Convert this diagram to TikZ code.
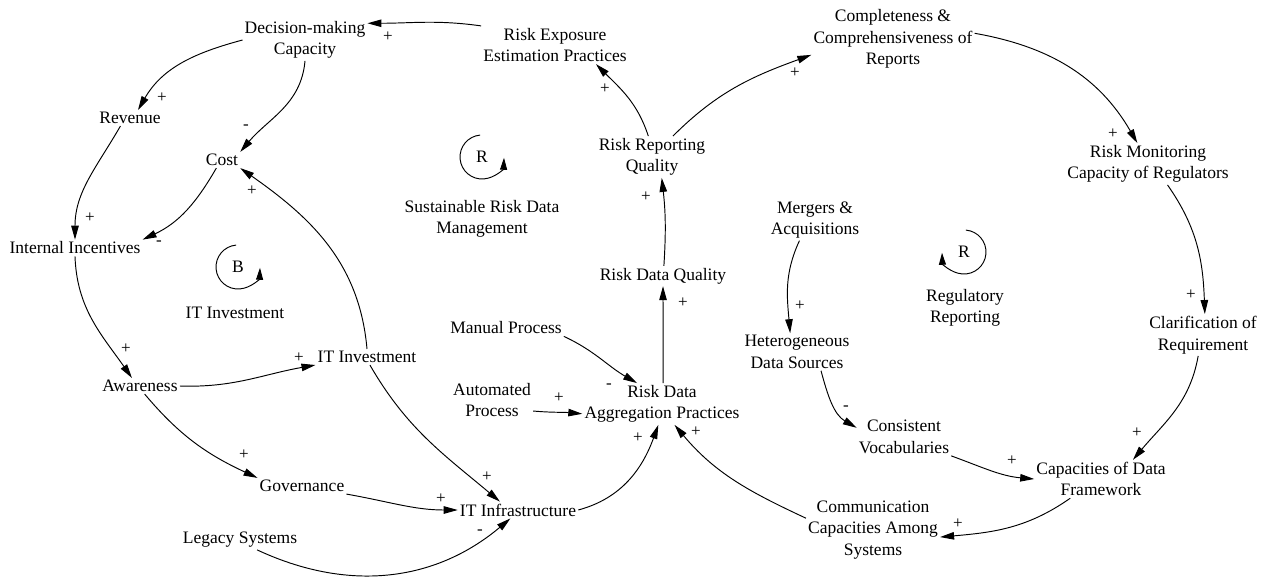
\documentclass[tikz,border=0pt]{standalone}
\usepackage{fontspec}
\setmainfont{Liberation Serif}
\usetikzlibrary{arrows.meta}

\tikzset{
  var/.style={align=center,inner sep=2pt,font=\fontsize{17.5}{21.5}\selectfont},
  link/.style={-{Triangle[length=14pt,width=7.5pt]},line width=0.95pt},
  pol/.style={inner sep=0pt,font=\fontsize{17}{20}\selectfont},
  loopsym/.style={-{Triangle[length=12pt,width=7pt]},line width=0.95pt},
}

\begin{document}
\begin{tikzpicture}[x=1pt,y=1pt]
\useasboundingbox (0,0) rectangle (1263,-584);
% variables
\node[var] (dmc) at (305,-40) {Decision-making\\Capacity};
\node[var] (rexp) at (555,-45) {Risk Exposure\\Estimation Practices};
\node[var] (compl) at (893,-39) {Completeness \&\\Comprehensiveness of\\Reports};
\node[var] (rev) at (130,-118) {Revenue};
\node[var] (cost) at (222,-160) {Cost};
\node[var] (rrq) at (652,-157) {Risk Reporting\\Quality};
\node[var] (rmon) at (1148,-164) {Risk Monitoring\\Capacity of Regulators};
\node[var] (inc) at (75,-248) {Internal Incentives};
\node[var] (ma) at (815,-220) {Mergers \&\\Acquisitions};
\node[var] (rdq) at (663,-276) {Risk Data Quality};
\node[var] (clar) at (1203,-335) {Clarification of\\Requirement};
\node[var] (manual) at (506,-328) {Manual Process};
\node[var] (het) at (797,-352) {Heterogeneous\\Data Sources};
\node[var] (aware) at (140,-386) {Awareness};
\node[var] (itinv) at (367,-357) {IT Investment};
\node[var] (auto) at (492,-400) {Automated\\Process};
\node[var] (rdap) at (662,-404) {Risk Data\\Aggregation Practices};
\node[var] (cv) at (904,-437) {Consistent\\Vocabularies};
\node[var] (cdf) at (1101,-479) {Capacities of Data\\Framework};
\node[var] (gov) at (302,-486) {Governance};
\node[var] (comm) at (873,-530) {Communication\\Capacities Among\\Systems};
\node[var] (itinf) at (518,-510) {IT Infrastructure};
\node[var] (legacy) at (240,-540) {Legacy Systems};

% loop names
\node[var] (sust) at (482,-219) {Sustainable Risk Data\\Management};
\node[var] (itloop) at (235,-313) {IT Investment};
\node[var] (regrep) at (965,-308) {Regulatory\\Reporting};

% loop symbols
\draw[loopsym] (238,-267) ++(95:22) arc (95:358:22);
\node[var] (bsym) at (238,-267) {B};
\draw[loopsym] (482,-157) ++(95:22) arc (95:358:22);
\node[var] (rsym1) at (482,-157) {R};
\draw[loopsym] (964,-252) ++(85:22) arc (85:-178:22);
\node[var] (rsym2) at (964,-252) {R};

% links
\draw[link] (rexp.north west) to[out=172,in=0] (dmc.15);
\draw[link] (dmc.west) to[out=195,in=60] (rev.45);
\draw[link] (dmc.south) to[out=-95,in=50] (cost.north east);
\draw[link] (rev.-140) to[out=-120,in=90] (inc.north);
\draw[link] (cost.-125) to[out=-120,in=25] (inc.north east);
\draw[link] (itinv.north) to[out=95,in=-35] (cost.south east);
\draw[link] (inc.south) to[out=-88,in=125] (aware.135);
\draw[link] (aware.east) to[out=-2,in=190] (itinv.south west);
\draw[link] (aware.-60) to[out=-50,in=155] (gov.north west);
\draw[link] (itinv.-70) to[out=-60,in=140] (itinf.155);
\draw[link] (gov.south east) to[out=-10,in=180] (itinf.west);
\draw[link] (legacy.-30) to[out=-25,in=-140] (itinf.-132);
\draw[link] (itinf.east) to[out=15,in=-110] (rdap.-100);
\draw[link] (manual.south east) to[out=-25,in=150] (rdap.140);
\draw[link] (auto.-15) to[out=-5,in=175] (rdap.187);
\draw[link] (comm.170) to[out=155,in=-50] (rdap.-59);
\draw[link] (rdap.87) -- (rdq.south);
\draw[link] (rdq.85) to[bend right=5] (rrq.-65);
\draw[link] (rrq.100) to[out=108,in=-45] (rexp.-25);
\draw[link] (rrq.45) to[out=45,in=200] (compl.191);
\draw[link] (compl.4) to[out=-10,in=120] (rmon.117);
\draw[link] (rmon.-47) to[out=-55,in=92] (clar.85);
\draw[link] (clar.-103) to[out=-100,in=50] (cdf.31);
\draw[link] (cv.south east) to[out=-20,in=175] (cdf.west);
\draw[link] (cdf.-148) to[out=-145,in=5] (comm.-6);
\draw[link] (ma.-127) to[out=-115,in=95] (het.110);
\draw[link] (het.-38) to[out=-75,in=150] (cv.169);

% polarities
\node[pol] at (388,-37) {+};
\node[pol] at (162,-98) {+};
\node[pol] at (246,-127) {-};
\node[pol] at (90,-218) {+};
\node[pol] at (159,-243) {-};
\node[pol] at (252,-191) {+};
\node[pol] at (126,-349) {+};
\node[pol] at (299,-358) {+};
\node[pol] at (244,-455) {+};
\node[pol] at (487,-477) {+};
\node[pol] at (441,-499) {+};
\node[pol] at (480,-532) {-};
\node[pol] at (638,-438) {+};
\node[pol] at (609,-386) {-};
\node[pol] at (559,-398) {+};
\node[pol] at (696,-432) {+};
\node[pol] at (683,-303) {+};
\node[pol] at (646,-197) {+};
\node[pol] at (605,-89) {+};
\node[pol] at (795,-73) {+};
\node[pol] at (1113,-134) {+};
\node[pol] at (1191,-295) {+};
\node[pol] at (1137,-433) {+};
\node[pol] at (1012,-461) {+};
\node[pol] at (958,-524) {+};
\node[pol] at (800,-306) {+};
\node[pol] at (846,-408) {-};
\end{tikzpicture}
\end{document}
